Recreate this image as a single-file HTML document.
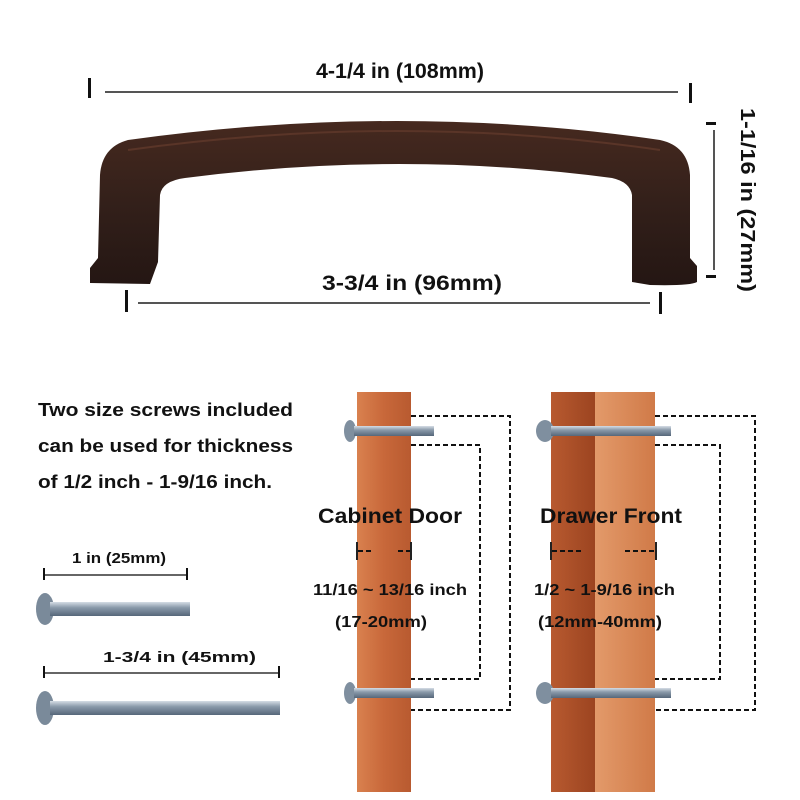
<!DOCTYPE html>
<html><head><style>body{margin:0;background:#fff}svg{display:block}text{font-family:"Liberation Sans",sans-serif;font-weight:bold;fill:#111}</style></head><body>
<svg width="800" height="800" viewBox="0 0 800 800">
<defs>
<linearGradient id="w1" x1="0" x2="1"><stop offset="0" stop-color="#d9814f"/><stop offset=".5" stop-color="#c8683a"/><stop offset="1" stop-color="#b85a30"/></linearGradient>
<linearGradient id="w2" x1="0" x2="1"><stop offset="0" stop-color="#b85a30"/><stop offset="1" stop-color="#9c4420"/></linearGradient>
<linearGradient id="w3" x1="0" x2="1"><stop offset="0" stop-color="#e39a6a"/><stop offset="1" stop-color="#d07a48"/></linearGradient>
<linearGradient id="hd" x1="0" y1="0" x2="0" y2="1"><stop offset="0" stop-color="#46291f"/><stop offset=".5" stop-color="#33201a"/><stop offset="1" stop-color="#241613"/></linearGradient>
<linearGradient id="sc" x1="0" y1="0" x2="0" y2="1"><stop offset="0" stop-color="#d5dde5"/><stop offset=".4" stop-color="#8a9aaa"/><stop offset="1" stop-color="#56677a"/></linearGradient>
<g id="scr"><ellipse cx="0" cy="0" rx="6" ry="11" fill="#7f8f9f"/><rect x="4" y="-5" width="80" height="10" fill="url(#sc)"/></g>
</defs>
<text x="316" y="78" font-size="21" textLength="168" lengthAdjust="spacingAndGlyphs">4-1/4 in (108mm)</text>
<rect x="88" y="78" width="3" height="20" fill="#111"/><rect x="689" y="83" width="3" height="20" fill="#111"/>
<line x1="105" y1="92" x2="678" y2="92" stroke="#555" stroke-width="2"/>
<path d="M90,283 L90,268 L98,258 L100,175 Q102,147 128,140 Q400,102 660,140 Q688,146 690,175 L690,258 L697,266 L697,282 Q690,286 650,285 L632,282 L632,262 L632,195 Q630,182 612,178 Q400,150 185,178 Q162,181 160,195 L158,262 L150,284 Z" fill="url(#hd)"/>
<path d="M128,150 Q400,112 660,150" stroke="#5a3528" stroke-width="2" fill="none"/>
<text x="322" y="290" font-size="21" textLength="180" lengthAdjust="spacingAndGlyphs">3-3/4 in (96mm)</text>
<rect x="125" y="290" width="3" height="22" fill="#111"/><rect x="659" y="292" width="3" height="22" fill="#111"/>
<line x1="138" y1="303" x2="650" y2="303" stroke="#555" stroke-width="2"/>
<rect x="706" y="122" width="10" height="3" fill="#111"/><rect x="706" y="275" width="10" height="3" fill="#111"/>
<line x1="714" y1="130" x2="714" y2="270" stroke="#555" stroke-width="2"/>
<text transform="translate(741,108) rotate(90)" font-size="20" textLength="184" lengthAdjust="spacingAndGlyphs">1-1/16 in (27mm)</text>
<text x="38" y="416" font-size="18" textLength="255" lengthAdjust="spacingAndGlyphs">Two size screws included</text>
<text x="38" y="452" font-size="18" textLength="255" lengthAdjust="spacingAndGlyphs">can be used for thickness</text>
<text x="38" y="488" font-size="18" textLength="234" lengthAdjust="spacingAndGlyphs">of 1/2 inch - 1-9/16 inch.</text>
<text x="72" y="563" font-size="15" textLength="94" lengthAdjust="spacingAndGlyphs">1 in (25mm)</text>
<rect x="43" y="568" width="2" height="12" fill="#111"/><rect x="186" y="568" width="2" height="12" fill="#111"/>
<line x1="45" y1="575" x2="186" y2="575" stroke="#333" stroke-width="1.5"/>
<ellipse cx="45" cy="609" rx="9" ry="16" fill="#7a8a9a"/><rect x="50" y="602" width="140" height="14" fill="url(#sc)"/>
<text x="103" y="662" font-size="15" textLength="153" lengthAdjust="spacingAndGlyphs">1-3/4 in (45mm)</text>
<rect x="43" y="666" width="2" height="12" fill="#111"/><rect x="278" y="666" width="2" height="12" fill="#111"/>
<line x1="45" y1="673" x2="278" y2="673" stroke="#333" stroke-width="1.5"/>
<ellipse cx="45" cy="708" rx="9" ry="17" fill="#7a8a9a"/><rect x="50" y="701" width="230" height="14" fill="url(#sc)"/>
<rect x="357" y="392" width="54" height="400" fill="url(#w1)"/>
<rect x="551" y="392" width="44" height="400" fill="url(#w2)"/>
<rect x="595" y="392" width="60" height="400" fill="url(#w3)"/>
<use href="#scr" x="350" y="431"/><use href="#scr" x="350" y="693"/>
<g transform="translate(545,431) scale(1.5,1)"><use href="#scr"/></g>
<g transform="translate(545,693) scale(1.5,1)"><use href="#scr"/></g>
<g fill="none" stroke="#111" stroke-width="2" stroke-dasharray="5,3">
<path d="M411,416 H510 V710 H411"/><path d="M411,445 H480 V679 H411"/>
<path d="M655,416 H755 V710 H655"/><path d="M655,445 H720 V679 H655"/>
<path d="M358,551 H372 M398,551 H412 M552,551 H581 M625,551 H656"/>
</g>
<g stroke="#222" stroke-width="2"><line x1="357" y1="542" x2="357" y2="560"/><line x1="411" y1="542" x2="411" y2="560"/><line x1="551" y1="542" x2="551" y2="560"/><line x1="656" y1="542" x2="656" y2="560"/></g>
<text x="318" y="523" font-size="21" textLength="144" lengthAdjust="spacingAndGlyphs">Cabinet Door</text>
<text x="540" y="523" font-size="21" textLength="142" lengthAdjust="spacingAndGlyphs">Drawer Front</text>
<text x="313" y="595" font-size="16" textLength="154" lengthAdjust="spacingAndGlyphs">11/16 ~ 13/16 inch</text>
<text x="335" y="627" font-size="16" textLength="92" lengthAdjust="spacingAndGlyphs">(17-20mm)</text>
<text x="534" y="595" font-size="16" textLength="141" lengthAdjust="spacingAndGlyphs">1/2 ~ 1-9/16 inch</text>
<text x="538" y="627" font-size="16" textLength="124" lengthAdjust="spacingAndGlyphs">(12mm-40mm)</text>
</svg>
</body></html>
